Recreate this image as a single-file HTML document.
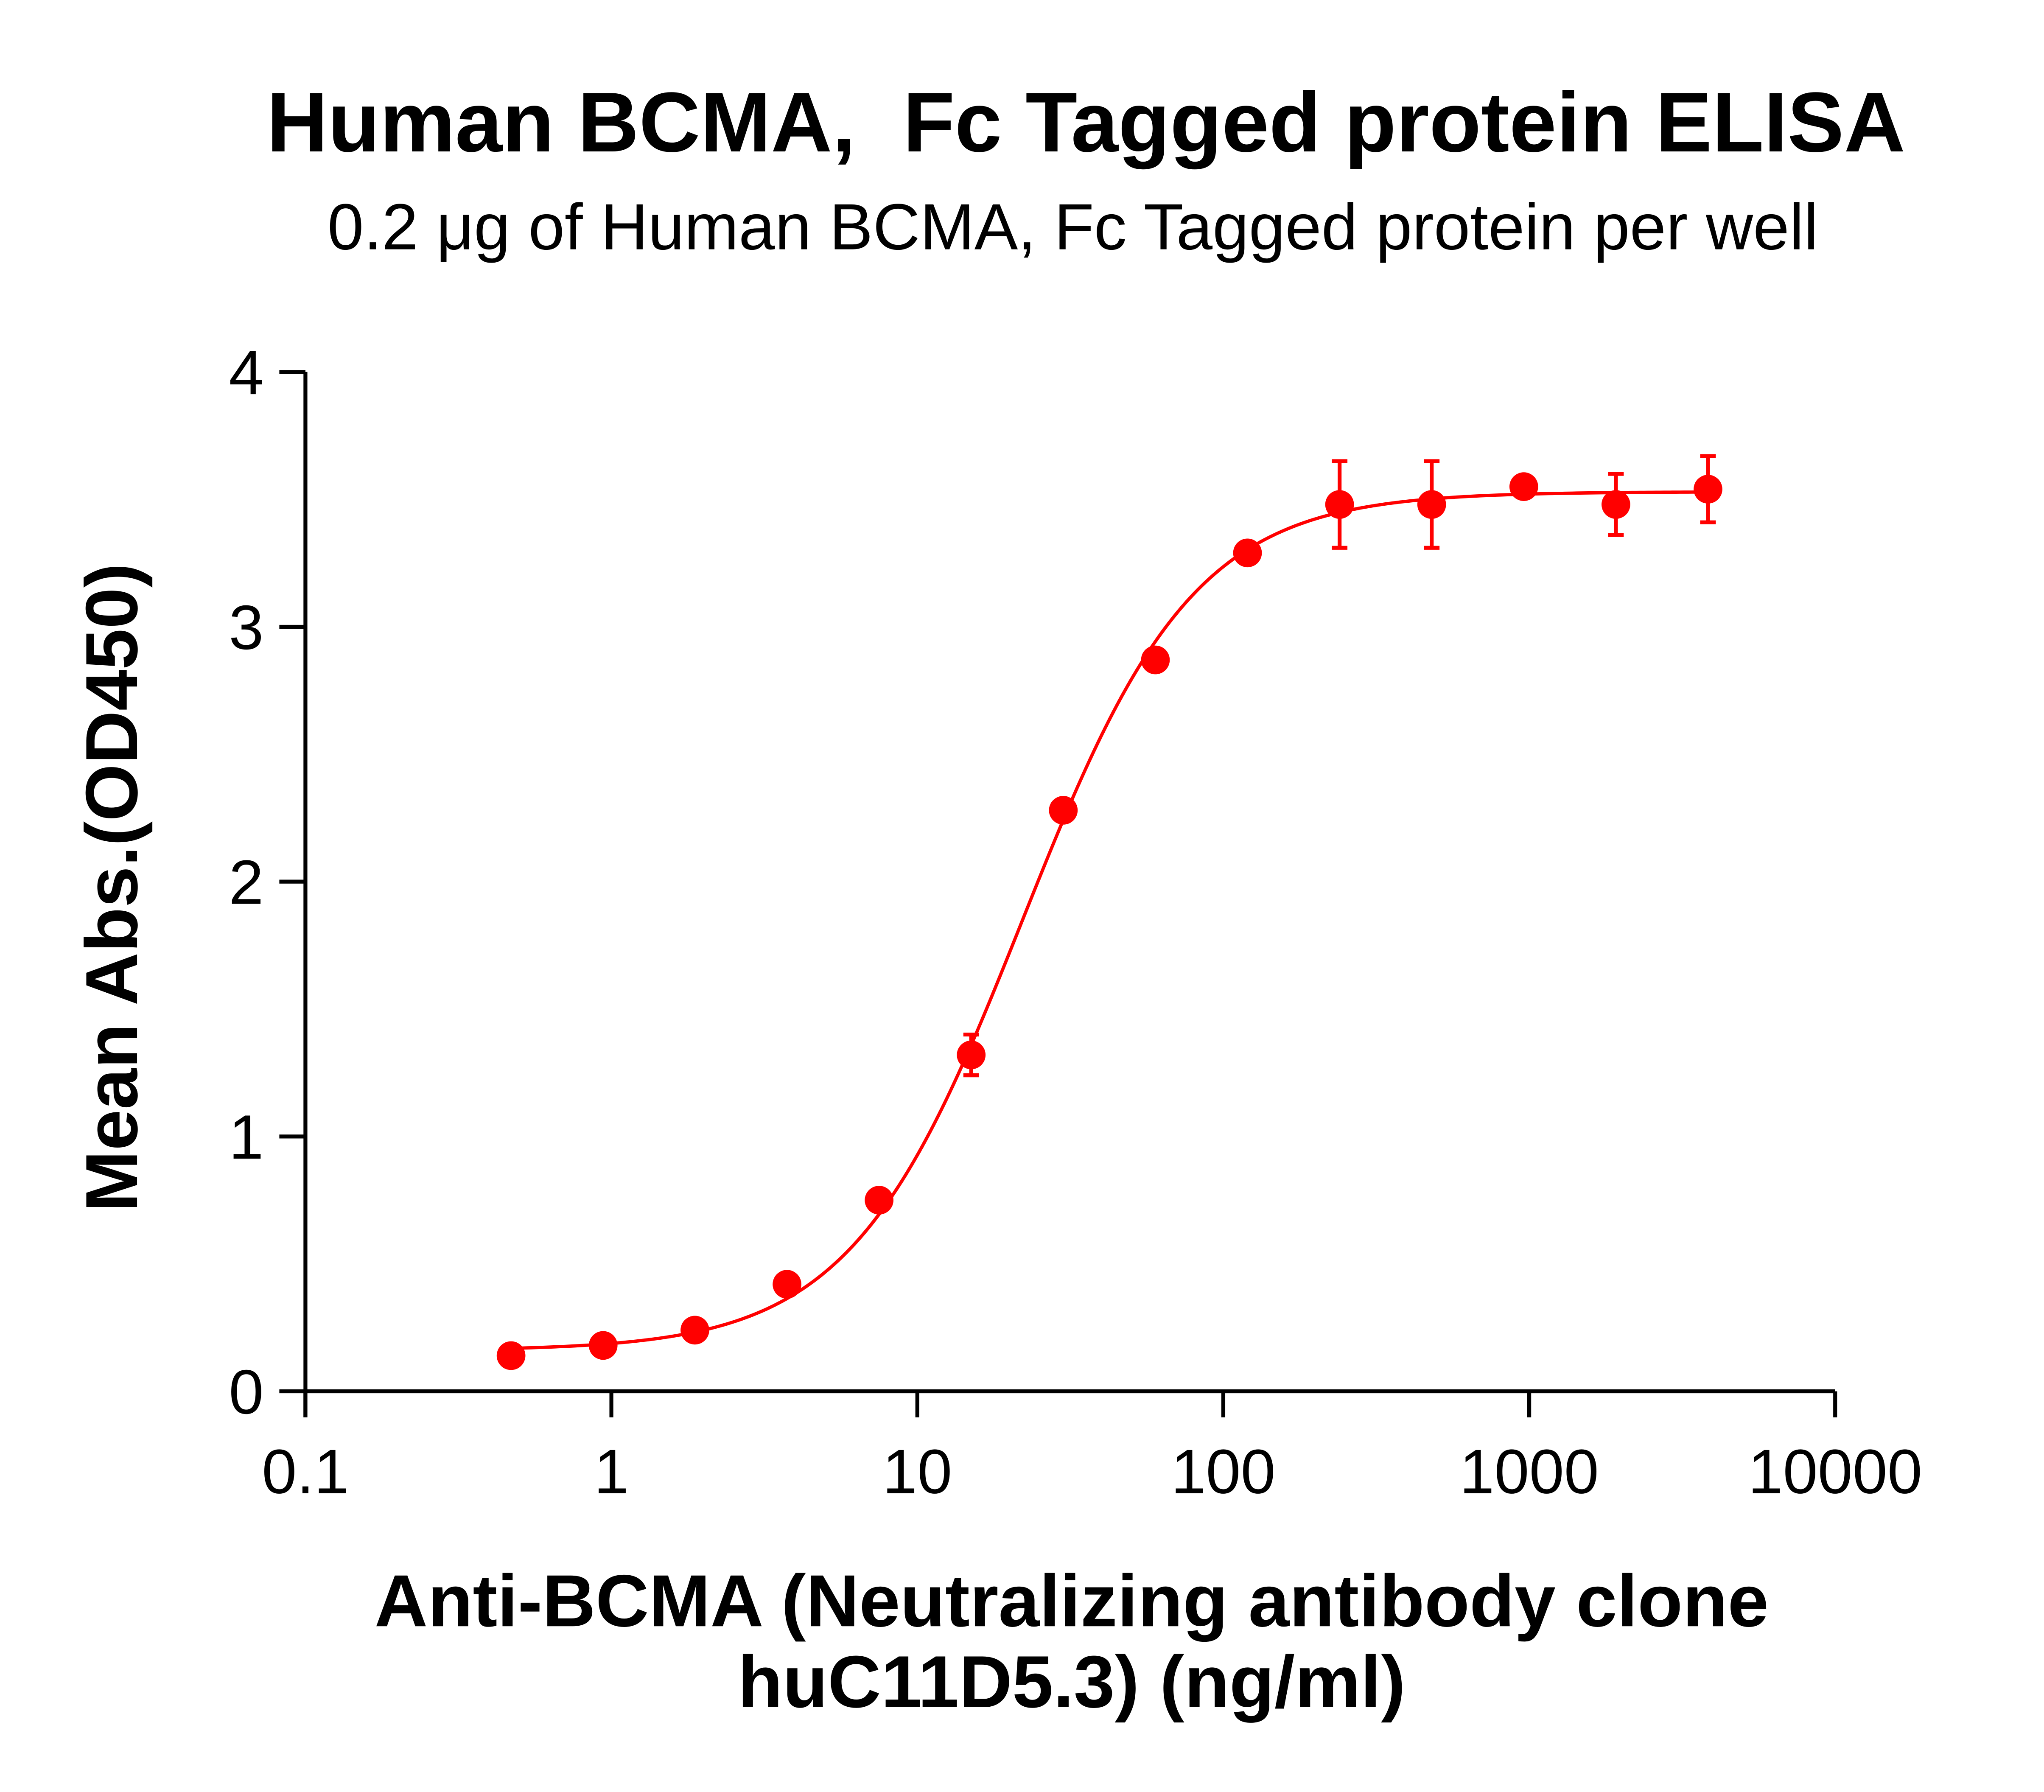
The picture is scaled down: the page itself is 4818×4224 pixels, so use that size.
<!DOCTYPE html>
<html><head><meta charset="utf-8"><style>
html,body{margin:0;padding:0;background:#fff}
svg{display:block}
text{font-family:"Liberation Sans",Arial,sans-serif;fill:#000}
</style></head><body>
<svg id="chart" width="4818" height="4224" viewBox="0 0 1566 1373" preserveAspectRatio="none" xmlns="http://www.w3.org/2000/svg">
<text x="832" y="116" font-size="65" font-weight="bold" text-anchor="middle" xml:space="preserve">Human BCMA,  Fc Tagged protein ELISA</text>
<text x="822" y="191" font-size="50" text-anchor="middle">0.2 μg of Human BCMA, Fc Tagged protein per well</text>
<text transform="translate(105,680) rotate(-90)" font-size="56.5" font-weight="bold" text-anchor="middle">Mean Abs.(OD450)</text>
<text x="821" y="1246" font-size="56.5" font-weight="bold" text-anchor="middle">Anti-BCMA (Neutralizing antibody clone</text>
<text x="821" y="1308" font-size="56.5" font-weight="bold" text-anchor="middle">huC11D5.3) (ng/ml)</text>
<g id="axes"></g>
<g id="marks"></g>
</svg>
<script>
const xTicks=[0.1,1,10,100,1000,10000];
const xTickLabels=["0.1","1","10","100","1000","10000"];
const yTicks=[0,1,2,3,4];
const yTickLabels=["0","1","2","3","4"];
const concentrations=[0.47,0.94,1.875,3.75,7.5,15,30,60,120,240,480,960,1920,3840];
const meanAbs=[0.14,0.18,0.24,0.42,0.75,1.32,2.28,2.87,3.29,3.48,3.48,3.55,3.48,3.54];
const errAbs=[0.02,0.02,0.02,0.02,0.02,0.08,0.03,0.03,0.03,0.17,0.17,0.02,0.12,0.13];
const fitBottom=0.16, fitTop=3.53, fitEC50=22, fitHill=1.55;

const NS="http://www.w3.org/2000/svg";
const X0=234,X1=1406,Y0=1066,Y1=285;
const xs=v=>X0+(Math.log10(v)+1)/5*(X1-X0);
const ys=v=>Y0-v/4*(Y0-Y1);
function mk(tag,attrs,parent){const e=document.createElementNS(NS,tag);for(const k in attrs)e.setAttribute(k,attrs[k]);parent.appendChild(e);return e;}
const axes=document.getElementById('axes'),marks=document.getElementById('marks');
const sw=3;
let a=mk('line',{x1:X0,x2:X1,y1:Y0,y2:Y0,stroke:'#000','stroke-width':sw},axes);


a=mk('line',{x1:X0,x2:X0,y1:Y1,y2:Y0+20,stroke:'#000','stroke-width':sw},axes);


xTicks.forEach((t,i)=>{
  const x=xs(t);
  const l=mk('line',{x1:x,x2:x,y1:Y0,y2:Y0+20,stroke:'#000','stroke-width':sw},axes);
  
  
  const tx=mk('text',{x:x,y:Y0+78,'font-size':48,'text-anchor':'middle'},axes);
  tx.textContent=xTickLabels[i];
  
  
});
yTicks.forEach((t,i)=>{
  const y=ys(t);
  const l=mk('line',{x1:X0-20,x2:X0,y1:y,y2:y,stroke:'#000','stroke-width':sw},axes);
  
  
  const tx=mk('text',{x:X0-32,y:y+17,'font-size':48,'text-anchor':'end'},axes);
  tx.textContent=yTickLabels[i];
  
  
});
let d='';
const lo=Math.log10(concentrations[0]),hi=Math.log10(concentrations[concentrations.length-1]);
for(let i=0;i<=300;i++){
  const c=Math.pow(10,lo+(hi-lo)*i/300);
  const v=fitBottom+(fitTop-fitBottom)/(1+Math.pow(fitEC50/c,fitHill));
  d+=(i?'L':'M')+xs(c).toFixed(2)+','+ys(v).toFixed(2);
}
const p=mk('path',{d:d,fill:'none',stroke:'#ff0000','stroke-width':2.5},marks);


concentrations.forEach((c,i)=>{
  const x=xs(c),y=ys(meanAbs[i]);
  const yt=ys(meanAbs[i]+errAbs[i]),yb=ys(meanAbs[i]-errAbs[i]);
  const g=mk('g',{},marks);
  
  
  mk('line',{x1:x,x2:x,y1:yt,y2:yb,stroke:'#ff0000','stroke-width':3},g);
  mk('line',{x1:x-6,x2:x+6,y1:yt,y2:yt,stroke:'#ff0000','stroke-width':3},g);
  mk('line',{x1:x-6,x2:x+6,y1:yb,y2:yb,stroke:'#ff0000','stroke-width':3},g);
  mk('circle',{cx:x,cy:y,r:11,fill:'#ff0000'},g);
});
</script>
</body></html>
